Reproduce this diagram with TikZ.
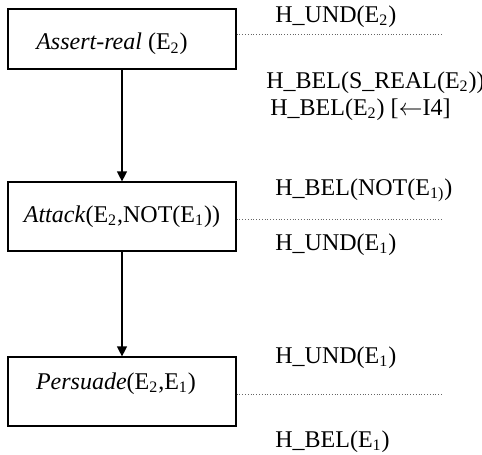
\documentclass[tikz,border=0pt]{standalone}
\usepackage{fontspec}
\setmainfont{Liberation Serif}
\usetikzlibrary{arrows.meta}
\tikzset{
  actbox/.style={draw, line width=0.6pt, minimum width=114pt, minimum height=34.5pt, inner sep=0pt, align=center},
  effect/.style={anchor=base west, inner sep=0pt},
  dotline/.style={densely dotted, line width=0.4pt, gray!80!black},
  flow/.style={line width=0.6pt, -{Triangle[length=5pt,width=5pt]}}
}
\begin{document}
\begin{tikzpicture}[x=0.5pt, y=-0.5pt, font=\fontsize{12pt}{14pt}\selectfont]
        \useasboundingbox (0,0) rectangle (482,455);
        % the three acts
        \node[actbox, minimum height=30pt, text height=13pt](assert) at (122,39) {\textit{Assert-real} (E\textsubscript{2})\hspace*{10pt}};
        \node[actbox](attack) at (122,216.5) {\textit{Attack}(E\textsubscript{2},NOT(E\textsubscript{1}))};
        \node[actbox, text depth=10.6pt](persuade) at (122,391.5) {\textit{Persuade}(E\textsubscript{2},E\textsubscript{1})\hspace*{6pt}};
        \draw[flow](assert)--(attack);
        \draw[flow](attack)--(persuade);
        % dotted separators
        \coordinate(sep1) at (442,34);
        \coordinate(sep2) at (442,219);
        \coordinate(sep3) at (442,394);
        \draw[dotline](assert.east |- sep1)--(sep1);
        \draw[dotline](attack.east |- sep2)--(sep2);
        \draw[dotline](persuade.east |- sep3)--(sep3);
        % effects
        \node[effect](und2) at (275,22) {H\_UND(E\textsubscript{2})};
        \node[effect](belreal) at (266,88) {H\_BEL(S\_REAL(E\textsubscript{2}))};
        \node[effect](bel2) at (270,115) {H\_BEL(E\textsubscript{2}) [$\leftarrow$I4]};
        \node[effect](belnot) at (275,195) {H\_BEL(NOT(E\textsubscript{1)})};
        \node[effect](und1) at (275,250) {H\_UND(E\textsubscript{1})};
        \node[effect](und1b) at (275,363) {H\_UND(E\textsubscript{1})};
        \node[effect](bel1) at (275,447) {H\_BEL(E\textsubscript{1})};
    \end{tikzpicture}
\end{document}
